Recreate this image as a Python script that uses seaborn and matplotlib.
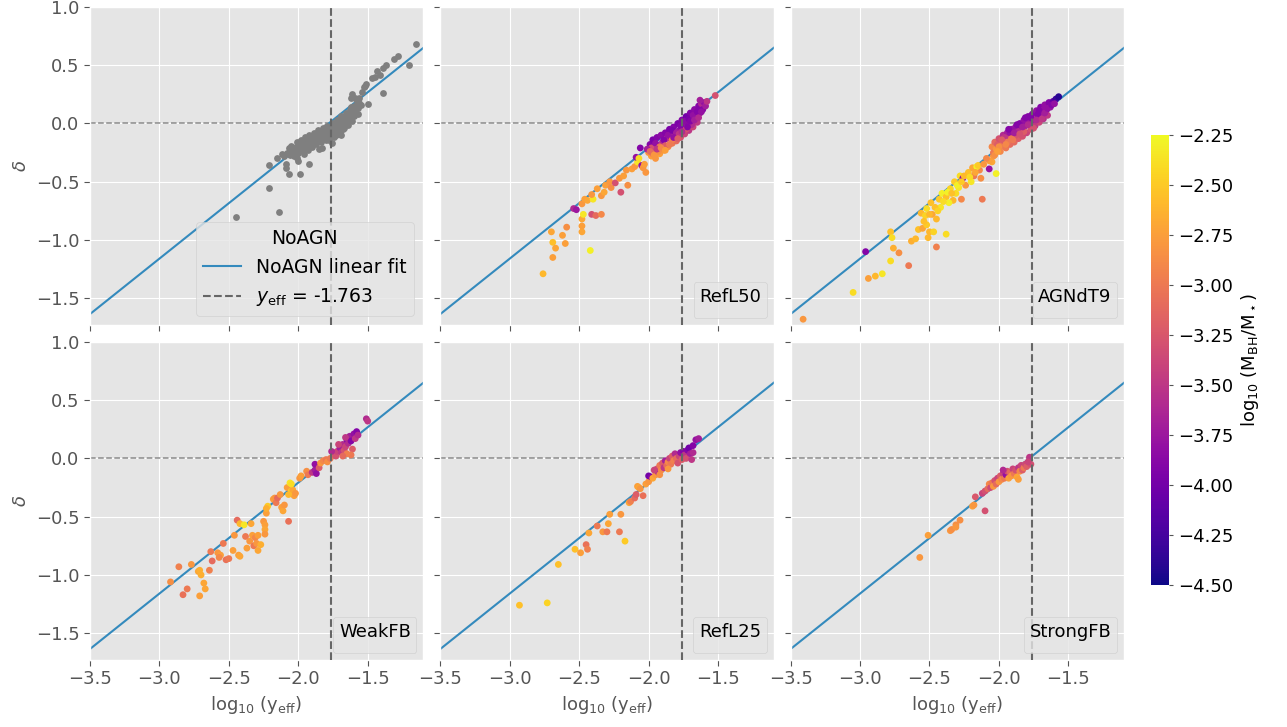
import numpy as np
import pandas as pd
import matplotlib
matplotlib.use("Agg")
import matplotlib.pyplot as plt
import seaborn as sns
from matplotlib.cm import ScalarMappable
from matplotlib.colors import Normalize

# ---------------- data ----------------
y_eff = -1.763
fit_slope = 0.952
fit_intercept = 1.696
x_ticks = [-3.5, -3.0, -2.5, -2.0, -1.5]
y_ticks = [-1.5, -1.0, -0.5, 0.0, 0.5, 1.0]
cbar_ticks = [-4.5, -4.25, -4.0, -3.75, -3.5, -3.25, -3.0, -2.75, -2.5, -2.25]
panel_names = ["NoAGN", "RefL50", "AGNdT9", "WeakFB", "RefL25", "StrongFB"]

# NoAGN (x, delta)
noagn_pts = [
    (-2.08,-0.25),(-2.07,-0.21),(-2.06,-0.27),(-2.05,-0.19),(-2.04,-0.24),(-2.03,-0.28),(-2.02,-0.20),(-2.01,-0.16),
    (-2.00,-0.25),(-1.99,-0.22),(-1.98,-0.14),(-1.97,-0.19),(-1.96,-0.26),(-1.95,-0.12),(-1.94,-0.17),(-1.93,-0.23),
    (-1.92,-0.10),(-1.91,-0.15),(-1.90,-0.20),(-1.89,-0.08),(-1.88,-0.13),(-1.87,-0.18),(-1.86,-0.06),(-1.85,-0.11),
    (-1.84,-0.16),(-1.83,-0.21),(-1.82,-0.04),(-1.81,-0.09),(-1.80,-0.14),(-1.79,-0.02),(-1.78,-0.07),(-1.77,-0.12),
    (-1.76,-0.17),(-1.75,0.00),(-1.74,-0.05),(-1.73,-0.10),(-1.72,0.03),(-1.71,-0.02),(-1.70,-0.07),(-1.69,0.06),
    (-1.68,0.01),(-1.67,-0.04),(-1.66,0.09),(-1.65,0.04),(-1.64,-0.01),(-1.63,0.12),(-1.62,0.07),(-1.61,0.02),
    (-1.60,0.15),(-1.59,0.10),(-1.58,0.19),(-1.57,0.13),(-1.56,0.22),
    (-2.05,-0.23),(-1.99,-0.18),(-1.95,-0.21),(-1.93,-0.15),(-1.89,-0.16),(-1.87,-0.10),(-1.85,-0.07),(-1.83,-0.12),
    (-1.81,-0.05),(-1.79,-0.10),(-1.77,-0.03),(-1.75,-0.08),(-1.73,-0.01),(-1.71,-0.05),(-1.69,0.02),(-1.67,0.00),
    (-1.65,0.07),(-1.63,0.03),(-1.61,0.10),(-1.97,-0.23),(-1.91,-0.19),(-1.84,-0.09),(-1.76,-0.11),(-1.70,0.04),
    (-1.66,0.05),(-1.62,0.14),
    (-2.06,-0.22),(-2.03,-0.24),(-2.00,-0.21),(-1.97,-0.16),(-1.94,-0.20),(-1.91,-0.12),(-1.88,-0.16),(-1.86,-0.14),
    (-1.82,-0.09),(-1.80,-0.03),(-1.78,-0.14),(-1.74,-0.12),(-1.72,-0.08),(-1.70,0.00),(-1.68,-0.05),(-1.66,0.01),
    (-1.64,0.08),(-1.60,0.06),(-1.58,0.14),(-1.57,0.08),(-2.10,-0.28),(-2.12,-0.26),(-2.15,-0.30),(-1.55,0.16),
    (-1.59,0.22),
    (-1.15,0.68),(-1.28,0.58),(-1.31,0.55),(-1.20,0.50),(-1.37,0.50),(-1.39,0.48),(-1.43,0.45),(-1.41,0.42),
    (-1.47,0.39),(-1.39,0.26),(-1.51,0.34),(-1.52,0.32),(-1.53,0.31),(-1.50,0.17),(-1.56,0.18),(-1.61,0.25),
    (-1.62,0.22),(-1.69,-0.10),(-2.09,-0.38),(-2.07,-0.43),(-1.99,-0.43),(-1.92,-0.35),(-2.00,-0.32),(-2.01,-0.30),
    (-1.85,-0.22),(-2.45,-0.80),(-2.21,-0.36),(-2.21,-0.55),(-2.14,-0.76),(-2.09,-0.35),(-1.54,0.27),(-1.45,0.40),
]

# coloured panels (x, delta, log10 M_BH/M_star)
refl50_pts = [
    (-2.76,-1.29,-2.6),(-2.69,-1.15,-2.75),(-2.69,-1.02,-2.55),(-2.70,-0.93,-2.7),(-2.67,-1.07,-2.7),(-2.62,-0.96,-2.75),
    (-2.60,-1.03,-2.75),(-2.59,-0.89,-2.85),(-2.42,-1.09,-2.3),(-2.48,-0.93,-2.7),(-2.48,-0.88,-2.75),(-2.48,-0.82,-2.7),
    (-2.47,-0.78,-2.35),(-2.54,-0.73,-3.6),(-2.52,-0.74,-3.75),(-2.41,-0.78,-3.3),(-2.38,-0.79,-3.1),(-2.34,-0.78,-2.9),
    (-2.48,-0.69,-2.8),(-2.46,-0.65,-2.75),(-2.44,-0.66,-2.7),(-2.40,-0.65,-2.35),(-2.41,-0.61,-2.8),(-2.37,-0.56,-2.75),
    (-2.34,-0.62,-2.8),(-2.32,-0.59,-2.7),(-2.31,-0.53,-2.75),(-2.28,-0.50,-2.8),(-2.27,-0.55,-2.85),(-2.24,-0.51,-3.3),
    (-2.21,-0.47,-2.8),(-2.20,-0.59,-3.3),(-2.18,-0.45,-2.75),(-2.15,-0.53,-2.85),(-2.16,-0.40,-2.8),(-2.12,-0.39,-2.75),
    (-2.10,-0.37,-2.8),(-2.08,-0.33,-2.35),(-2.09,-0.29,-3.8),(-2.07,-0.30,-2.4),(-2.06,-0.21,-3.9),(-2.05,-0.36,-3.8),
    (-2.04,-0.38,-2.8),(-2.03,-0.35,-2.75),(-2.02,-0.42,-2.8),
    (-2.00,-0.25,-2.8),(-1.99,-0.18,-3.9),(-1.98,-0.28,-2.75),(-1.97,-0.14,-3.95),(-1.96,-0.22,-3.2),(-1.95,-0.30,-2.8),
    (-1.94,-0.12,-3.9),(-1.93,-0.19,-3.4),(-1.92,-0.26,-2.75),(-1.91,-0.10,-3.85),(-1.90,-0.16,-3.6),(-1.89,-0.23,-2.8),
    (-1.88,-0.08,-3.9),(-1.87,-0.13,-3.5),(-1.86,-0.20,-2.9),(-1.85,-0.05,-3.95),(-1.84,-0.11,-3.7),(-1.83,-0.17,-3.0),
    (-1.82,-0.03,-3.9),(-1.81,-0.09,-3.6),(-1.80,-0.15,-3.1),(-1.79,0.00,-3.95),(-1.78,-0.06,-3.8),(-1.77,-0.12,-3.3),
    (-1.76,0.03,-3.9),(-1.75,-0.03,-3.7),(-1.74,-0.09,-3.4),(-1.73,0.06,-4.0),(-1.72,0.00,-3.8),(-1.71,-0.06,-3.5),
    (-1.70,0.09,-3.9),(-1.69,0.03,-3.7),(-1.68,-0.03,-3.4),(-1.67,0.12,-3.85),(-1.66,0.06,-3.6),(-1.65,0.01,-3.5),
    (-1.64,0.15,-3.9),(-1.63,0.09,-3.7),(-1.62,0.17,-3.6),(-1.61,0.12,-3.9),(-1.60,0.18,-3.8),(-1.52,0.24,-3.3),
    (-1.98,-0.21,-3.3),(-1.95,-0.17,-3.8),(-1.92,-0.20,-3.0),(-1.89,-0.14,-3.9),(-1.86,-0.10,-3.8),(-1.83,-0.06,-3.95),
    (-1.80,-0.08,-3.7),(-1.77,-0.02,-3.9),(-1.74,0.02,-3.85),(-1.71,0.04,-3.95),(-1.68,0.07,-3.8),(-1.65,0.10,-3.9),
    (-1.93,-0.24,-2.85),(-1.88,-0.19,-3.2),(-1.83,-0.14,-2.95),(-1.78,-0.09,-3.5),(-1.73,-0.05,-3.3),(-1.69,-0.01,-3.6),
    (-1.97,-0.26,-3.0),(-2.01,-0.22,-3.7),
    (-1.99,-0.24,-3.1),(-1.96,-0.27,-2.8),(-1.94,-0.22,-3.5),(-1.91,-0.21,-2.9),(-1.88,-0.23,-2.75),(-1.85,-0.18,-3.0),
    (-1.82,-0.12,-3.8),(-1.79,-0.13,-3.2),(-1.76,-0.07,-3.6),(-1.72,-0.03,-3.9),(-1.70,0.02,-3.9),(-1.67,0.03,-3.7),
    (-1.64,0.05,-3.6),(-1.62,0.10,-3.8),(-1.59,0.15,-3.7),(-1.58,0.19,-3.5),(-1.63,0.20,-3.7),
]

agndt9_pts = [
    (-3.41,-1.68,-2.8),(-3.05,-1.45,-2.4),(-2.96,-1.10,-3.9),(-2.94,-1.33,-2.75),(-2.89,-1.31,-2.6),(-2.84,-1.29,-2.35),
    (-2.78,-1.18,-2.4),(-2.78,-0.93,-2.55),(-2.77,-0.98,-2.4),(-2.76,-1.07,-2.65),(-2.72,-1.11,-2.85),(-2.65,-1.22,-3.0),
    (-2.63,-1.01,-2.65),(-2.60,-0.99,-2.6),(-2.56,-0.77,-2.6),(-2.58,-0.91,-2.55),(-2.55,-0.90,-2.7),(-2.52,-0.87,-2.5),
    (-2.50,-0.93,-2.6),(-2.47,-0.93,-2.45),(-2.38,-0.95,-2.4),(-2.45,-1.06,-2.95),(-2.51,-0.98,-2.6),(-2.53,-0.79,-2.45),
    (-2.52,-0.73,-2.4),(-2.49,-0.68,-2.55),(-2.48,-0.78,-2.7),(-2.45,-0.82,-2.6),(-2.43,-0.65,-2.5),(-2.42,-0.72,-2.35),
    (-2.41,-0.60,-2.3),(-2.38,-0.63,-2.55),(-2.35,-0.56,-2.45),(-2.33,-0.66,-2.6),(-2.31,-0.60,-2.4),(-2.27,-0.65,-2.9),
    (-2.32,-0.50,-2.5),(-2.28,-0.45,-2.4),(-2.26,-0.47,-3.8),(-2.24,-0.53,-2.8),(-2.22,-0.42,-2.55),(-2.19,-0.38,-2.7),
    (-2.18,-0.45,-3.0),(-2.14,-0.40,-2.9),(-2.13,-0.47,-2.85),(-2.12,-0.65,-3.0),(-2.07,-0.39,-3.8),(-2.02,-0.43,-2.3),
    (-2.05,-0.33,-2.7),(-2.04,-0.28,-2.8),(-2.07,-0.32,-2.75),(-2.16,-0.37,-2.3),(-2.20,-0.50,-2.35),(-2.29,-0.55,-2.35),
    (-2.36,-0.68,-2.3),(-2.46,-0.72,-2.55),
    (-2.40,-0.67,-2.4),(-2.37,-0.59,-2.3),(-2.34,-0.60,-2.55),(-2.30,-0.53,-2.3),(-2.27,-0.50,-2.5),(-2.25,-0.45,-2.6),
    (-2.21,-0.46,-2.4),(-2.17,-0.42,-2.7),(-2.15,-0.36,-2.5),(-2.11,-0.35,-2.8),(-2.09,-0.30,-2.9),(-2.44,-0.75,-2.45),
    (-2.50,-0.78,-2.6),(-2.54,-0.84,-2.55),
    (-2.05,-0.20,-2.9),(-2.04,-0.25,-3.0),(-2.03,-0.16,-3.1),(-2.02,-0.22,-2.8),(-2.01,-0.18,-3.2),(-2.00,-0.13,-3.3),
    (-1.99,-0.24,-2.9),(-1.98,-0.19,-3.0),(-1.97,-0.10,-3.6),(-1.96,-0.15,-3.3),(-1.95,-0.21,-3.0),(-1.94,-0.08,-3.7),
    (-1.93,-0.13,-3.4),(-1.92,-0.18,-3.1),(-1.91,-0.05,-3.8),(-1.90,-0.10,-3.6),(-1.89,-0.16,-3.1),(-1.88,-0.03,-3.8),
    (-1.87,-0.08,-3.5),(-1.86,-0.13,-3.2),(-1.85,0.00,-3.9),(-1.84,-0.05,-3.6),(-1.83,-0.11,-3.3),(-1.82,0.03,-3.8),
    (-1.81,-0.02,-3.7),(-1.80,-0.08,-3.4),(-1.79,0.06,-3.9),(-1.78,0.01,-3.7),(-1.77,-0.05,-3.3),(-1.76,0.08,-3.9),
    (-1.75,0.03,-3.6),(-1.74,-0.02,-3.5),(-1.73,0.11,-3.8),(-1.72,0.06,-3.7),(-1.71,0.01,-3.4),(-1.70,0.14,-3.9),
    (-1.69,0.09,-3.7),(-1.68,0.04,-3.6),(-1.67,0.16,-3.8),(-1.66,0.11,-3.9),(-1.65,0.07,-3.5),(-1.64,0.18,-3.9),
    (-1.63,0.14,-3.8),(-1.61,0.19,-4.1),(-1.59,0.21,-4.3),(-1.57,0.23,-4.4),
    (-2.00,-0.20,-2.85),(-1.96,-0.12,-3.5),(-1.92,-0.08,-3.8),(-1.88,-0.10,-3.3),(-1.84,-0.02,-3.9),(-1.80,0.00,-3.8),
    (-1.76,0.03,-3.7),(-1.72,0.08,-3.9),(-1.68,0.12,-3.8),(-1.86,-0.07,-3.6),(-1.94,-0.16,-3.0),(-1.90,-0.14,-3.0),
    (-1.82,-0.07,-3.2),
    (-2.03,-0.27,-2.85),(-2.01,-0.24,-2.75),(-1.98,-0.14,-3.2),(-1.95,-0.18,-2.9),(-1.93,-0.05,-3.9),(-1.91,-0.13,-3.0),
    (-1.89,-0.08,-3.7),(-1.87,-0.01,-3.9),(-1.85,-0.09,-3.3),(-1.83,-0.03,-3.7),(-1.81,0.05,-3.9),(-1.79,-0.01,-3.6),
    (-1.77,0.05,-3.9),(-1.75,-0.04,-3.3),(-1.73,0.03,-3.6),(-1.71,0.11,-3.9),(-1.69,0.04,-3.5),(-1.67,0.09,-3.7),
    (-1.65,0.13,-3.8),(-1.62,0.16,-3.9),(-1.60,0.17,-3.8),
]

weakfb_pts = [
    (-2.92,-1.06,-2.85),(-2.86,-0.93,-2.95),(-2.83,-1.17,-3.05),(-2.80,-1.12,-3.0),(-2.77,-0.91,-2.8),(-2.72,-0.97,-2.7),
    (-2.71,-0.96,-2.65),(-2.70,-1.00,-2.65),(-2.71,-1.18,-2.75),(-2.68,-1.07,-2.7),(-2.67,-1.12,-2.7),(-2.64,-0.96,-2.95),
    (-2.62,-0.88,-3.1),(-2.63,-0.80,-3.0),(-2.58,-0.81,-2.8),(-2.56,-0.83,-2.75),(-2.57,-0.85,-2.9),(-2.54,-0.73,-3.0),
    (-2.52,-0.87,-3.05),(-2.50,-0.86,-3.0),(-2.47,-0.79,-2.75),(-2.44,-0.53,-3.1),(-2.43,-0.83,-2.75),(-2.42,-0.84,-2.7),
    (-2.46,-0.66,-2.8),(-2.42,-0.56,-2.6),(-2.39,-0.57,-2.35),(-2.38,-0.67,-3.0),(-2.37,-0.77,-2.75),(-2.35,-0.71,-2.8),
    (-2.34,-0.56,-2.7),(-2.33,-0.66,-2.75),(-2.32,-0.75,-3.0),(-2.31,-0.68,-2.9),(-2.30,-0.73,-2.8),(-2.29,-0.66,-2.75),
    (-2.29,-0.79,-2.7),(-2.27,-0.74,-2.65),(-2.25,-0.54,-2.8),(-2.24,-0.57,-2.75),(-2.24,-0.61,-2.7),(-2.24,-0.65,-2.8),
    (-2.23,-0.47,-2.75),(-2.22,-0.41,-2.5),(-2.23,-0.43,-2.65),(-2.18,-0.35,-2.75),(-2.17,-0.34,-2.8),(-2.16,-0.38,-3.0),
    (-2.15,-0.34,-3.1),(-2.13,-0.31,-2.8),(-2.12,-0.42,-2.75),(-2.11,-0.45,-2.7),(-2.10,-0.40,-2.8),(-2.08,-0.25,-2.75),
    (-2.07,-0.54,-3.05),(-2.06,-0.21,-2.35),(-2.05,-0.28,-2.45),(-2.04,-0.27,-2.7),(-2.03,-0.32,-2.75),(-2.02,-0.30,-2.8),
    (-2.07,-0.31,-2.6),(-2.05,-0.22,-2.4),
    (-1.99,-0.17,-2.8),(-1.98,-0.15,-2.75),(-1.94,-0.11,-2.85),(-1.93,-0.14,-3.0),(-1.90,-0.12,-3.5),(-1.88,-0.10,-3.7),
    (-1.88,-0.05,-3.8),(-1.87,-0.13,-3.8),(-1.85,-0.08,-3.2),(-1.84,-0.04,-2.8),(-1.82,-0.02,-2.9),(-1.80,-0.01,-3.0),
    (-1.79,-0.03,-2.85),(-1.77,0.00,-3.0),(-1.75,0.05,-3.2),(-1.74,0.03,-3.1),(-1.73,0.02,-3.3),(-1.72,0.06,-3.4),
    (-1.70,0.09,-3.7),(-1.69,0.05,-3.5),(-1.68,0.12,-3.6),(-1.67,0.07,-3.3),(-1.66,0.10,-3.4),(-1.65,0.16,-3.9),
    (-1.64,0.13,-3.6),(-1.63,0.19,-3.7),(-1.62,0.15,-3.9),(-1.61,0.08,-3.2),(-1.60,0.21,-3.8),(-1.59,0.17,-3.5),
    (-1.58,0.23,-3.9),(-1.57,0.20,-3.6),(-1.62,0.03,-3.0),(-1.65,0.04,-2.95),(-1.68,0.02,-3.1),(-1.51,0.34,-3.6),
    (-1.50,0.32,-3.5),(-1.71,0.12,-3.4),(-1.66,0.18,-3.5),(-1.76,0.06,-3.6),
]

refl25_pts = [
    (-2.93,-1.26,-2.55),(-2.73,-1.24,-2.45),(-2.65,-0.91,-2.55),(-2.53,-0.78,-2.55),(-2.49,-0.81,-2.75),(-2.45,-0.74,-3.05),
    (-2.44,-0.78,-2.95),(-2.43,-0.64,-2.7),(-2.37,-0.58,-3.0),(-2.33,-0.63,-2.8),(-2.30,-0.63,-3.0),(-2.29,-0.56,-2.7),
    (-2.28,-0.48,-2.75),(-2.21,-0.63,-3.0),(-2.20,-0.48,-2.8),(-2.17,-0.71,-2.5),(-2.14,-0.38,-2.7),(-2.13,-0.37,-2.95),
    (-2.10,-0.34,-3.1),(-2.09,-0.31,-3.2),(-2.08,-0.24,-2.75),(-2.07,-0.25,-2.7),(-2.06,-0.26,-2.8),(-2.04,-0.32,-3.05),
    (-2.02,-0.22,-2.75),(-2.00,-0.20,-2.8),(-2.00,-0.15,-4.0),(-1.98,-0.16,-3.9),(-1.97,-0.17,-2.7),(-1.95,-0.14,-2.8),
    (-1.94,-0.09,-3.3),(-1.93,-0.12,-3.6),(-1.92,-0.06,-3.0),(-1.91,-0.10,-2.9),(-1.90,-0.04,-3.2),(-1.89,-0.08,-3.5),
    (-1.88,-0.02,-3.7),(-1.87,-0.06,-3.1),(-1.86,-0.03,-2.9),(-1.85,0.00,-3.4),(-1.84,-0.05,-3.0),(-1.83,0.02,-3.2),
    (-1.82,-0.02,-2.95),(-1.81,0.04,-3.6),(-1.80,0.00,-3.1),(-1.79,-0.04,-3.3),(-1.78,0.02,-3.4),(-1.77,0.05,-3.8),
    (-1.76,-0.01,-3.2),(-1.75,0.06,-3.9),(-1.74,0.03,-3.5),(-1.73,0.00,-3.3),(-1.72,0.07,-3.9),(-1.71,0.09,-4.0),
    (-1.70,0.04,-3.7),(-1.69,-0.01,-3.5),(-1.68,0.11,-3.9),(-1.66,0.16,-3.8),(-1.64,0.17,-3.7),(-1.68,0.05,-3.6),
    (-1.92,-0.14,-2.85),(-1.96,-0.10,-3.4),(-1.86,-0.09,-2.8),
]

strongfb_pts = [
    (-2.57,-0.85,-2.8),(-2.51,-0.66,-2.75),(-2.35,-0.62,-2.8),(-2.34,-0.61,-2.85),(-2.31,-0.57,-2.85),(-2.31,-0.59,-2.8),
    (-2.28,-0.53,-2.85),(-2.19,-0.41,-2.75),(-2.18,-0.40,-2.8),(-2.17,-0.33,-3.25),(-2.10,-0.45,-3.3),(-2.12,-0.30,-3.4),
    (-2.10,-0.28,-3.3),(-2.08,-0.26,-3.1),(-2.07,-0.22,-2.9),(-2.06,-0.25,-3.35),(-2.05,-0.21,-3.0),(-2.04,-0.24,-2.8),
    (-2.03,-0.19,-3.3),(-2.02,-0.22,-3.1),(-2.01,-0.17,-3.4),(-2.00,-0.20,-2.8),(-1.99,-0.15,-3.2),(-1.98,-0.18,-2.9),
    (-1.97,-0.13,-3.4),(-1.96,-0.17,-3.0),(-1.95,-0.14,-3.8),(-1.94,-0.11,-3.3),(-1.93,-0.17,-2.75),(-1.92,-0.12,-3.1),
    (-1.91,-0.15,-2.8),(-1.90,-0.09,-3.4),(-1.89,-0.13,-3.0),(-1.88,-0.10,-3.3),(-1.87,-0.16,-2.7),(-1.86,-0.18,-2.75),
    (-1.86,-0.08,-3.5),(-1.85,-0.11,-2.9),(-1.84,-0.06,-3.4),(-1.83,-0.10,-3.2),(-1.82,-0.08,-3.0),(-1.81,-0.05,-3.35),
    (-1.80,-0.07,-3.2),(-1.78,0.01,-3.5),(-1.77,-0.05,-3.3),(-1.79,-0.03,-3.4),(-1.97,-0.10,-3.6),
]

# ---------------- style ----------------
plt.style.use("ggplot")
plt.rcParams["font.family"] = ["DejaVu Sans"]
plt.rcParams["axes.unicode_minus"] = True

fig = plt.figure(figsize=(12.87, 7.27), dpi=100)
gs = fig.add_gridspec(2, 3, left=0.0699, right=0.8733, top=0.9904, bottom=0.0922,
                      wspace=0.051, hspace=0.053)
axes = gs.subplots(sharex=True, sharey=True)

norm = Normalize(vmin=-4.5, vmax=-2.25)
x_line = np.array([-3.5, -1.1])
colour_sets = {"RefL50": refl50_pts, "AGNdT9": agndt9_pts, "WeakFB": weakfb_pts,
               "RefL25": refl25_pts, "StrongFB": strongfb_pts}

for i, name in enumerate(panel_names):
    ax = axes.flat[i]
    ln_fit, = ax.plot(x_line, fit_slope * x_line + fit_intercept, color="#348ABD",
                      lw=1.5, zorder=2, label="NoAGN linear fit")
    ax.axhline(0.0, color="#8a8a8a", ls="--", lw=1.1, zorder=1.5)
    if name == "NoAGN":
        df = pd.DataFrame(noagn_pts, columns=["x", "d"])
        sns.scatterplot(data=df, x="x", y="d", ax=ax, color="#7f7f7f", s=24,
                        linewidth=0, zorder=3)
    else:
        df = pd.DataFrame(colour_sets[name], columns=["x", "d", "c"])
        sns.scatterplot(data=df, x="x", y="d", hue="c", palette="plasma", hue_norm=norm,
                        ax=ax, s=24, linewidth=0, legend=False, zorder=3)
    ln_v = ax.axvline(y_eff, color="#666666", ls="--", lw=1.5, zorder=4,
                      label=r"$y_{\rm eff}$ = %.3f" % y_eff)
    ax.set_xlim(-3.5, -1.1)
    ax.set_ylim(-1.73, 1.0)
    ax.set_xticks(x_ticks)
    ax.set_yticks(y_ticks)
    ax.tick_params(labelsize=13, colors="#555555", length=4)
    ax.set_xlabel("")
    ax.set_ylabel("")
    if name == "NoAGN":
        leg = ax.legend(handles=[ln_fit, ln_v], title=name, loc="lower right",
                        fontsize=13.5, title_fontsize=13.5)
    else:
        leg = ax.legend(handles=[], title=name, loc="lower right", title_fontsize=13)
    leg.get_title().set_color("black")
    for t in leg.get_texts():
        t.set_color("black")

for ax in axes[:, 0]:
    ax.set_ylabel(r"$\delta$", fontsize=13, color="#555555")
for ax in axes[1, :]:
    ax.set_xlabel(r"log$_{10}$ (y$_{\rm eff}$)", fontsize=13, color="#555555")

cax = fig.add_axes([0.8943, 0.1953, 0.014, 0.619])
sm = ScalarMappable(norm=norm, cmap="plasma")
cb = fig.colorbar(sm, cax=cax, ticks=cbar_ticks)
cb.ax.set_yticklabels([("%.2f" % t).replace("-", "\u2212") for t in cbar_ticks])
cb.ax.tick_params(labelsize=13, labelcolor="black", color="#555555", length=3)
cb.outline.set_visible(False)
cb.set_label(r"log$_{10}$ (M$_{\rm BH}$/M$_\star$)", fontsize=13, color="black")

fig.savefig("out.png", dpi=100)
